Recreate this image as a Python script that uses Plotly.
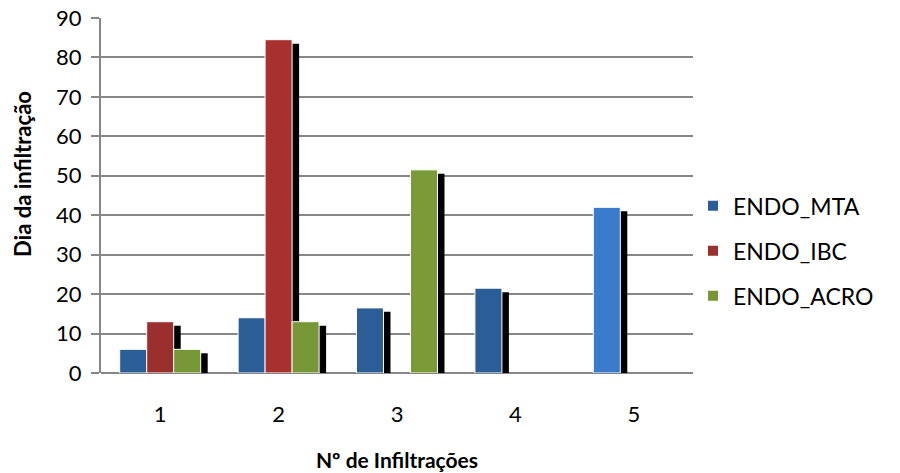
import plotly.graph_objects as go

categories = ["1", "2", "3", "4", "5"]
endo_mta = [6, 14, 16.5, 21.5, 42]
endo_ibc = [13, 84.5, None, None, None]
endo_acro = [6, 13, 51.5, None, None]

series = [
    ("ENDO_MTA", endo_mta, ["#2B5D97", "#2B5D97", "#2B5D97", "#2B5D97", "#3A7BCB"]),
    ("ENDO_IBC", endo_ibc, ["#9B2F2D", "#A8302E", "#9B2F2D", "#9B2F2D", "#9B2F2D"]),
    ("ENDO_ACRO", endo_acro, ["#779736", "#779736", "#7A9B38", "#779736", "#779736"]),
]

cat_px = 592 / 5.0
bar_w = 27 / cat_px
offsets = [-1.5 * bar_w, -0.5 * bar_w, 0.5 * bar_w]
shadow_dx = 7 / cat_px
shadow_dy = 1.0

FONT = "Lato"
fig = go.Figure()

# shadows first
for (name, vals, cols), off in zip(series, offsets):
    sv = [None if v is None else v - shadow_dy for v in vals]
    fig.add_trace(go.Bar(
        x=categories, y=sv, offset=off + shadow_dx, width=bar_w,
        legendgroup="shadow_" + name,
        marker=dict(color="black", line=dict(width=0)),
        showlegend=False, hoverinfo="skip"))

for (name, vals, cols), off in zip(series, offsets):
    fig.add_trace(go.Bar(
        x=categories, y=vals, offset=off, width=bar_w, name=name,
        legendgroup=name,
        marker=dict(color=cols, line=dict(color="white", width=1))))

fig.update_layout(
    width=900, height=473,
    barmode="overlay",
    paper_bgcolor="white", plot_bgcolor="white",
    margin=dict(l=101, r=207, t=18, b=100, autoexpand=False),
    font=dict(family=FONT, size=22, color="black"),
    legend=dict(x=1.0, xanchor="left", y=0.344, yanchor="middle",
                font=dict(size=23), itemsizing="constant",
                tracegroupgap=12, traceorder="grouped",
                bgcolor="rgba(0,0,0,0)"),
    xaxis=dict(
        type="category", range=[-0.5, 4.5], automargin=False,
        showgrid=False, ticks="", ticklabelstandoff=26,
        showline=False, zeroline=False,
        title=dict(text="<b>Nº de Infiltrações</b>", font=dict(size=21), standoff=27),
    ),
    yaxis=dict(
        range=[0, 90], dtick=10, automargin=False,
        showgrid=True, gridcolor="#878787", gridwidth=2,
        showline=True, linecolor="#878787", linewidth=2,
        ticks="outside", ticklen=8, tickcolor="#878787", tickwidth=1.5,
        ticklabelstandoff=5,
        zeroline=True, zerolinecolor="#878787", zerolinewidth=2,
    ),
    annotations=[dict(
        text="<b>Dia da infiltração</b>", textangle=-90,
        xref="paper", yref="paper", x=(22 - 101) / 592, y=(373 - 174) / 355,
        xanchor="center", yanchor="middle", showarrow=False,
        font=dict(size=22, family=FONT, color="black"))],
)

fig.write_html("out.html", config={"displayModeBar": False},
               post_script="document.body.style.margin='0';")
